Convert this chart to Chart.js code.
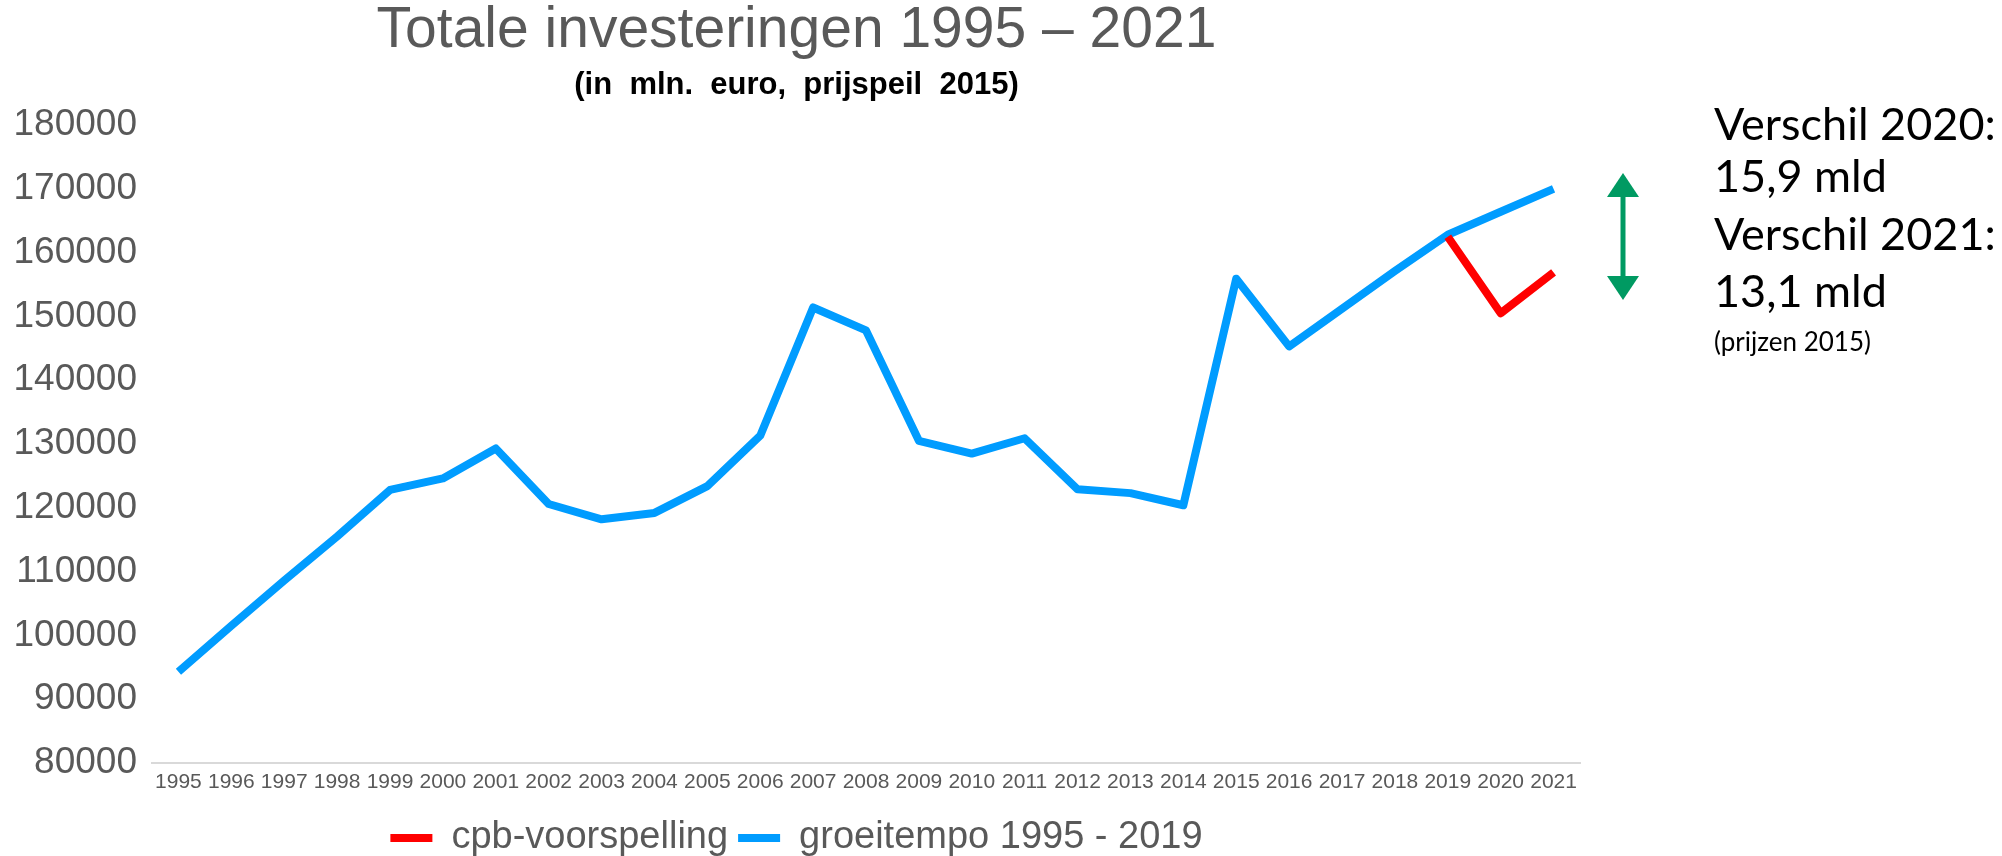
<!DOCTYPE html>
<html>
<head>
<meta charset="utf-8">
<script src="https://cdn.jsdelivr.net/npm/chart.js@4.4.1/dist/chart.umd.min.js"></script>
<style>
  html, body { margin: 0; padding: 0; background: #fff; }
  #wrap { width: 2002px; height: 856px; position: relative; }
</style>
</head>
<body>
<div id="wrap"><canvas id="invChart"></canvas></div>
<script>
const years = ['1995', '1996', '1997', '1998', '1999', '2000', '2001', '2002', '2003', '2004',
  '2005', '2006', '2007', '2008', '2009', '2010', '2011', '2012', '2013', '2014',
  '2015', '2016', '2017', '2018', '2019', '2020', '2021'];

const groeitempo = [94300, 101500, 108600, 115500, 122800, 124600, 129300, 120600, 118200, 119200,
  123400, 131300, 151400, 147800, 130500, 128500, 130900, 122900, 122300, 120400,
  155900, 145300, 151200, 157100, 162800, 166400, 170000];

const cpbVoorspelling = [null, null, null, null, null, null, null, null, null, null,
  null, null, null, null, null, null, null, null, null, null,
  null, null, null, null, 162500, 150500, 156900];

const yTicks = [80000, 90000, 100000, 110000, 120000, 130000, 140000, 150000, 160000, 170000, 180000];

const noteLines = ['Verschil 2020:', '15,9 mld', 'Verschil 2021:', '13,1 mld'];
const noteSmall = '(prijzen 2015)';

// text + green arrow on the right
const sideNotes = {
  id: 'sideNotes',
  afterDraw(chart) {
    const ctx = chart.ctx;
    ctx.save();

    // double arrow
    const ax = 1623, top = 173, bottom = 300, head = 24, half = 16;
    ctx.fillStyle = '#009a62';
    ctx.strokeStyle = '#009a62';
    ctx.lineWidth = 5;
    ctx.beginPath();
    ctx.moveTo(ax, top + head - 2);
    ctx.lineTo(ax, bottom - head + 2);
    ctx.stroke();
    ctx.beginPath();
    ctx.moveTo(ax, top);
    ctx.lineTo(ax - half, top + head);
    ctx.lineTo(ax + half, top + head);
    ctx.closePath();
    ctx.fill();
    ctx.beginPath();
    ctx.moveTo(ax, bottom);
    ctx.lineTo(ax - half, bottom - head);
    ctx.lineTo(ax + half, bottom - head);
    ctx.closePath();
    ctx.fill();

    ctx.fillStyle = '#000';
    ctx.textAlign = 'left';
    ctx.textBaseline = 'alphabetic';
    ctx.font = '45px Lato';
    const baselines = [140, 192, 250, 307];
    noteLines.forEach((t, i) => ctx.fillText(t, 1714, baselines[i]));
    ctx.font = '26px Lato';
    ctx.fillText(noteSmall, 1714, 351);
    ctx.restore();
  }
};

new Chart(document.getElementById('invChart'), {
  type: 'line',
  data: {
    labels: years,
    datasets: [
      {
        label: 'cpb-voorspelling',
        data: cpbVoorspelling,
        borderColor: '#ff0000',
        backgroundColor: '#ff0000',
        borderWidth: 8,
        pointRadius: 0,
        borderJoinStyle: 'round',
        spanGaps: false
      },
      {
        label: 'groeitempo 1995 - 2019',
        data: groeitempo,
        borderColor: '#009cff',
        backgroundColor: '#009cff',
        borderWidth: 8,
        pointRadius: 0,
        borderJoinStyle: 'round'
      }
    ]
  },
  options: {
    responsive: true,
    maintainAspectRatio: false,
    animation: false,
    layout: {
      padding: { left: 13, right: 422, top: 0, bottom: -11 }
    },
    plugins: {
      title: {
        display: true,
        text: 'Totale investeringen 1995 – 2021',
        color: '#595959',
        font: { family: 'Liberation Sans', size: 57, weight: 'normal', lineHeight: 1 },
        padding: { top: 3, bottom: 10 }
      },
      subtitle: {
        display: true,
        text: '(in  mln.  euro,  prijspeil  2015)',
        color: '#000',
        font: { family: 'Liberation Sans', size: 31, weight: 'bold', lineHeight: 1 },
        padding: { top: 0, bottom: 24 }
      },
      legend: {
        position: 'bottom',
        labels: {
          color: '#595959',
          font: { family: 'Liberation Sans', size: 38 },
          boxWidth: 42,
          boxHeight: 8,
          padding: 10,
          generateLabels(chart) {
            const items = Chart.defaults.plugins.legend.labels.generateLabels(chart);
            items.forEach(it => { it.lineWidth = 0; });
            return items;
          }
        }
      },
      tooltip: { enabled: false }
    },
    scales: {
      x: {
        offset: true,
        grid: { display: false, drawTicks: false },
        border: { display: true, color: '#d9d9d9', width: 2 },
        ticks: {
          color: '#595959',
          font: { family: 'Liberation Sans', size: 21 },
          padding: 7,
          maxRotation: 0,
          autoSkip: false
        },
        afterFit(scale) { scale.height = 46; }
      },
      y: {
        min: 80000,
        max: 180000,
        grid: { display: false, drawTicks: false },
        border: { display: false },
        afterBuildTicks(scale) { scale.ticks = yTicks.map(v => ({ value: v })); },
        afterFit(scale) { scale.width = 139; },
        ticks: {
          color: '#595959',
          font: { family: 'Liberation Sans', size: 37 },
          padding: 15,
          callback: v => String(v)
        }
      }
    }
  },
  plugins: [sideNotes]
});
</script>
</body>
</html>
